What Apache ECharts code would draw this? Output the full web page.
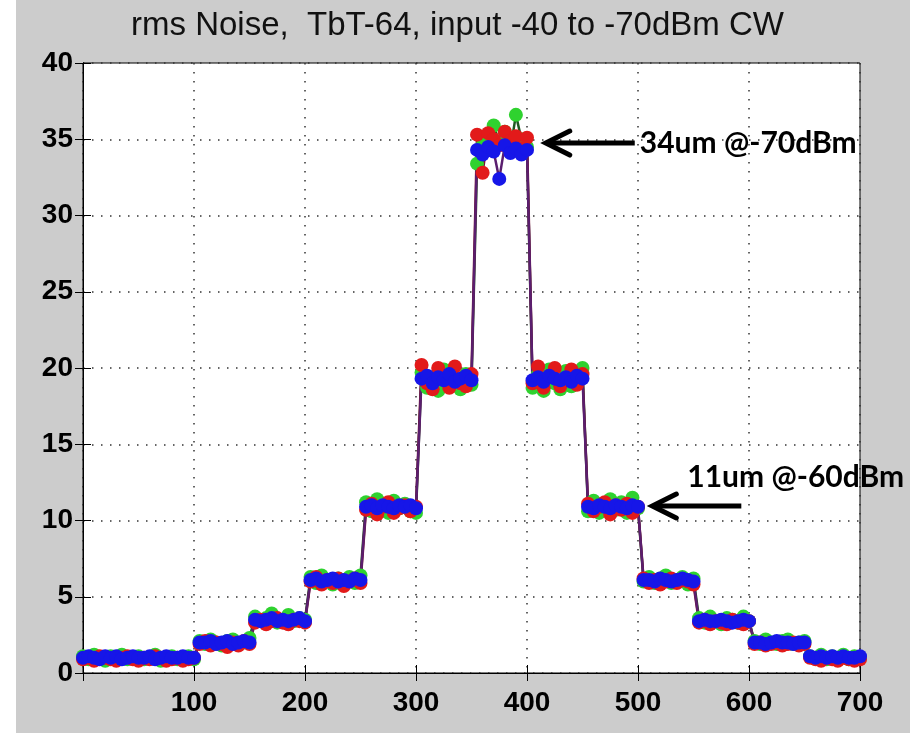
<!DOCTYPE html>
<html>
<head>
<meta charset="utf-8">
<script src="https://cdn.jsdelivr.net/npm/echarts@6/dist/echarts.min.js"></script>
<style>
  html, body { margin: 0; padding: 0; background: #ffffff; }
  #chart { position: absolute; left: 16px; top: 0; width: 894px; height: 733px; }
</style>
</head>
<body>
<div id="chart"></div>
<script>
// Turn-by-turn rms noise, one plotted point every 5 turns (turn 0 .. 700).
const titleText = 'rms Noise,  TbT-64, input -40 to -70dBm CW';
const xTickValues = [100, 200, 300, 400, 500, 600, 700];
const sampleStep = 5;

// Input level steps -40 .. -70 dBm and back, 50 turns per step.
const greenRms = [
  1.1, 0.9, 1.2, 1.0, 0.8, 1.1, 1.0, 1.2, 0.9, 1.0, 1.1, 0.9, 1.0, 1.2, 0.8, 1.0, 1.1, 0.9, 1.0, 1.1, 0.9,
  2.1, 1.9, 2.2, 2.0, 1.8, 2.1, 2.2, 1.9, 2.0, 2.3,
  3.7, 3.4, 3.6, 3.9, 3.3, 3.5, 3.8, 3.4, 3.6, 3.5,
  6.3, 5.9, 6.4, 6.1, 5.8, 6.2, 6.0, 6.3, 5.9, 6.4,
  11.2, 10.6, 11.4, 10.9, 10.5, 11.3, 10.8, 11.1, 10.6, 10.5,
  19.7, 18.7, 19.4, 18.5, 19.9, 18.8, 19.2, 18.6, 19.6, 18.9,
  33.4, 34.6, 35.2, 35.9, 34.8, 35.5, 34.3, 36.6, 35.0, 34.5,
  18.7, 19.6, 18.5, 19.9, 19.0, 18.6, 19.8, 18.8, 19.4, 20.0,
  10.6, 11.3, 10.5, 11.0, 11.4, 10.7, 11.2, 10.5, 11.5, 10.8,
  6.0, 6.3, 5.9, 6.2, 6.4, 5.9, 6.1, 6.3, 5.8, 6.2,
  3.6, 3.3, 3.7, 3.4, 3.2, 3.6, 3.5, 3.3, 3.7, 3.4,
  2.1, 1.9, 2.2, 2.0, 1.9, 2.1, 2.2, 1.9, 2.0, 2.1,
  1.1, 1.0, 1.2, 0.9, 1.1, 1.0, 1.2, 0.9, 1.1, 1.0
];
const redRms = [
  0.9, 1.0, 0.8, 1.1, 1.0, 0.9, 0.8, 1.0, 1.1, 0.9, 0.8, 1.0, 0.9, 1.1, 1.0, 0.8, 0.9, 1.0, 0.8, 0.9, 1.0,
  1.9, 2.1, 1.8, 2.0, 1.9, 1.7, 2.0, 1.8, 2.1, 1.9,
  3.3, 3.5, 3.2, 3.4, 3.6, 3.3, 3.2, 3.5, 3.4, 3.3,
  6.0, 6.3, 5.8, 6.1, 5.9, 6.2, 5.7, 6.0, 6.2, 5.9,
  10.7, 11.1, 10.4, 10.9, 11.2, 10.5, 10.8, 11.0, 10.6, 10.9,
  20.2, 19.0, 18.6, 20.0, 19.4, 18.7, 20.1, 19.0, 18.8, 19.6,
  35.3, 32.8, 35.4, 35.0, 34.6, 35.5, 34.9, 35.2, 34.4, 35.1,
  19.0, 20.1, 18.7, 19.5, 20.0, 18.8, 19.3, 19.9, 18.9, 19.6,
  11.1, 10.6, 10.9, 11.2, 10.4, 11.0, 10.7, 11.1, 10.5, 10.9,
  6.2, 5.9, 6.1, 5.8, 6.0, 6.2, 5.9, 6.1, 6.0, 5.8,
  3.3, 3.5, 3.2, 3.4, 3.3, 3.2, 3.5, 3.3, 3.2, 3.4,
  1.9, 2.0, 1.8, 1.9, 2.0, 1.8, 1.9, 2.0, 1.8, 1.9,
  1.0, 0.9, 0.8, 1.0, 0.9, 0.8, 1.0, 0.9, 0.8, 0.9
];
const blueRms = [
  1.0, 1.1, 1.0, 0.9, 1.1, 1.0, 1.1, 0.9, 1.0, 1.1, 1.0, 1.0, 1.1, 0.9, 1.0, 1.1, 1.0, 1.0, 1.1, 1.0, 1.0,
  2.0, 2.0, 2.1, 1.9, 2.0, 2.1, 1.9, 2.0, 2.1, 2.0,
  3.5, 3.4, 3.5, 3.6, 3.4, 3.5, 3.4, 3.5, 3.6, 3.4,
  6.1, 6.2, 6.0, 6.1, 6.2, 6.0, 6.1, 6.0, 6.2, 6.1,
  10.9, 11.0, 10.8, 11.0, 10.9, 10.8, 11.0, 10.9, 11.0, 10.8,
  19.3, 19.5, 19.0, 19.4, 19.2, 19.6, 19.1, 19.3, 19.5, 19.2,
  34.3, 34.0, 34.5, 34.2, 32.4, 34.6, 34.1, 34.4, 34.0, 34.3,
  19.2, 19.4, 19.1, 19.5, 19.3, 19.2, 19.4, 19.1, 19.5, 19.3,
  10.9, 10.8, 11.0, 10.9, 10.8, 11.0, 10.9, 10.8, 11.0, 10.9,
  6.1, 6.1, 6.0, 6.2, 6.1, 6.0, 6.1, 6.2, 6.1, 6.0,
  3.4, 3.5, 3.4, 3.4, 3.5, 3.4, 3.3, 3.4, 3.5, 3.4,
  2.0, 2.0, 1.9, 2.0, 2.1, 2.0, 2.0, 1.9, 2.0, 2.0,
  1.1, 1.0, 1.1, 1.0, 1.1, 1.0, 1.1, 1.0, 1.0, 1.1
];

// Callouts: arrow tip anchored in data space (turn, um).
const callouts = [
  { text: '34um @-70dBm', tip: [416, 34.75] },
  { text: '11um @-60dBm', tip: [512, 10.95] }
];

const chart = echarts.init(document.getElementById('chart'), null, { renderer: 'canvas' });

function traceSeries(name, values, markColor, lineColor) {
  return {
    name: name,
    type: 'line',
    data: values.map((v, i) => [i * sampleStep, v]),
    symbol: 'circle',
    symbolSize: 14,
    showSymbol: true,
    showAllSymbol: true,
    clip: false,
    itemStyle: { color: markColor, borderWidth: 0 },
    lineStyle: { color: lineColor, width: 2.5 },
    emphasis: { disabled: true },
    animation: false
  };
}

const dotted = { color: '#333333', type: [1.5, 7.5], width: 1.5 };
const tickLabel = { color: '#000', fontWeight: 'bold', fontSize: 28, fontFamily: 'Liberation Sans, Arial, sans-serif' };

chart.setOption({
  backgroundColor: '#cccccc',
  animation: false,
  title: {
    text: titleText,
    left: 110,
    top: 4,
    textStyle: { fontFamily: 'Liberation Sans, Arial, sans-serif', fontWeight: 'normal', fontSize: 33, color: '#111' }
  },
  grid: {
    left: 67, right: 50, top: 63, bottom: 60,
    show: true, backgroundColor: '#ffffff', borderColor: '#000', borderWidth: 1
  },
  xAxis: [
    {
      type: 'value', min: 0, max: 700, interval: 100, position: 'bottom',
      axisLine: { show: true, lineStyle: { color: '#000', width: 1 } },
      axisTick: { show: true, inside: true, length: 8, lineStyle: { color: '#000' } },
      axisLabel: Object.assign({ showMinLabel: false, margin: 16 }, tickLabel),
      splitLine: { show: true, lineStyle: dotted }
    },
    {
      type: 'value', min: 0, max: 700, interval: 100, position: 'top',
      axisLine: { show: true, lineStyle: { color: '#000', width: 1 } },
      axisTick: { show: true, inside: true, length: 8, lineStyle: { color: '#000' } },
      axisLabel: { show: false },
      splitLine: { show: false }
    }
  ],
  yAxis: [
    {
      type: 'value', min: 0, max: 40, interval: 5, position: 'left',
      axisLine: { show: true, lineStyle: { color: '#000', width: 1 } },
      axisTick: { show: true, inside: true, length: 8, lineStyle: { color: '#000' } },
      axisLabel: Object.assign({ margin: 10 }, tickLabel),
      splitLine: { show: true, lineStyle: dotted }
    },
    {
      type: 'value', min: 0, max: 40, interval: 5, position: 'right',
      axisLine: { show: true, lineStyle: { color: '#000', width: 1 } },
      axisTick: { show: true, inside: true, length: 8, lineStyle: { color: '#000' } },
      axisLabel: { show: false },
      splitLine: { show: false }
    }
  ],
  series: [
    traceSeries('green', greenRms, '#2fd22f', '#1f5a22'),
    traceSeries('red', redRms, '#e21a1a', '#7a1236'),
    traceSeries('blue', blueRms, '#1616e8', '#5a1e6e')
  ]
});

// Arrow + text callouts, placed from their data anchors.
const calloutLayout = [
  { shaft: 90, textDx: 95, textDy: 0 },
  { shaft: 90, textDx: 36, textDy: -29 }
];
const graphics = [];
callouts.forEach((c, k) => {
  const p = chart.convertToPixel({ xAxisIndex: 0, yAxisIndex: 0 }, c.tip);
  const L = calloutLayout[k];
  const tx = p[0], ty = p[1];
  graphics.push({
    type: 'line', z: 100,
    shape: { x1: tx + 3, y1: ty, x2: tx + L.shaft, y2: ty },
    style: { stroke: '#000', lineWidth: 5 }
  });
  graphics.push({
    type: 'polyline', z: 100,
    shape: { points: [[tx + 25, ty - 12], [tx + 1, ty], [tx + 25, ty + 12]] },
    style: { stroke: '#000', lineWidth: 5, fill: null, lineJoin: 'miter', lineCap: 'round' }
  });
  graphics.push({
    type: 'text', z: 101,
    x: tx + L.textDx, y: ty + L.textDy,
    style: {
      text: c.text, fill: '#000',
      fontFamily: 'Lato, sans-serif', fontWeight: 'bold', fontSize: 30,
      verticalAlign: 'middle', align: 'left'
    }
  });
});
chart.setOption({ graphic: graphics });
</script>
</body>
</html>
